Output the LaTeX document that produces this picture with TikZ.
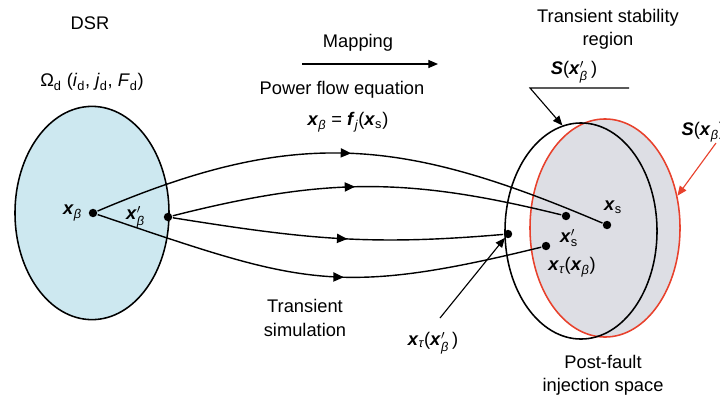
\documentclass[tikz,border=0pt]{standalone}
\usepackage{amsmath}
\usepackage{fontspec}
\setmainfont{Liberation Sans}
\usetikzlibrary{arrows.meta, positioning, shapes.geometric, decorations.markings}
\definecolor{cdsr}{HTML}{CDE8F0}
\definecolor{cregion}{HTML}{DDDEE4}
\definecolor{cred}{HTML}{E8412C}
\newcommand{\vx}{\textbf{\textit{x}}}
\newcommand{\gi}[1]{\text{\itshape #1}}
\tikzset{
  every picture/.style={font=\fontsize{13}{15}\selectfont, line width=1pt},
  region/.style={ellipse, draw=#1, line width=1.1pt, inner sep=0pt},
  pt/.style={circle, fill=black, inner sep=0pt, minimum size=6pt},
  flow/.style={draw=black, postaction={decorate}, decoration={markings, mark=at position #1 with {\arrow{Triangle[length=2.6mm, width=2.3mm]}}}},
  flow/.default=0.5,
  pointer/.style={-{Triangle[length=2.4mm, width=2mm]}, line width=0.8pt},
  lbl/.style={inner sep=1pt},
  caption/.style={align=center, font=\fontsize{13}{16.5}\selectfont},
}
\begin{document}
\begin{tikzpicture}[x=0.025cm, y=-0.025cm]
  \useasboundingbox (0,0) rectangle (720,395);
  \node[region=black, fill=cdsr, minimum width=3.85cm, minimum height=5.33cm] (dsr) at (92,213) {};
  \node[region=cred, fill=cregion, minimum width=3.75cm, minimum height=5.45cm] (sxb) at (605,228) {};
  \node[region=black, minimum width=3.8cm, minimum height=5.4cm] (sxbp) at (581,231) {};
  \node[pt] (xb) at (93,213) {};
  \node[pt] (xbp) at (168,217) {};
  \node[pt] (xs) at (607,225) {};
  \node[pt] (xsp) at (566,216) {};
  \node[pt] (xtb) at (546,246) {};
  \node[pt] (xtbp) at (508,234) {};
  \draw[flow] (xb) .. controls (297,126) and (403,138) .. (xs);
  \draw[flow=0.47] (xbp) .. controls (326,177) and (408,177) .. (xsp);
  \draw[flow=0.53] (xbp) .. controls (306,239) and (369,246) .. (xtbp);
  \draw[flow=0.56] (xb) .. controls (300,283) and (334,298) .. (xtb);
  \node[lbl, left=0.1cm of xb] {\vx$_{\gi{β}}$};
  \node[lbl, left=0.4cm of xbp] {\vx$'_{\gi{β}}$};
  \node[lbl] at (613,207) {\vx$_{\text{s}}$};
  \node[lbl] at (569,238) {\vx$'_{\text{s}}$};
  \node[lbl] at (572,267) {\vx$_{\gi{τ}}$(\vx$_{\gi{β}}$)};
  \node[lbl] (xtbplbl) at (433,343) {\vx$_{\gi{τ}}$(\vx$'_{\gi{β}}$\,)};
  \node (dsrlbl) at (90,23) {DSR};
  \node (omega) at (92,82) {Ω\textsubscript{d} (\textit{i}\textsubscript{d}, \textit{j}\textsubscript{d}, \textit{F}\textsubscript{d})};
  \node (maplbl) at (358,43) {Mapping};
  \node (pflbl) at (342,90) {Power flow equation};
  \node (eqlbl) at (348,122) {\vx$_{\gi{β}}$ = \textbf{\textit{f}}$_{\gi{j}}$(\vx$_{\text{s}}$)};
  \node[caption] (tsr) at (608,29) {Transient stability\\region};
  \node (sxbplbl) at (574,72) {\textbf{\textit{S}}(\vx$'_{\gi{β}}$\,)};
  \node[anchor=west, inner sep=0pt] (sxblbl) at (681,132) {\textbf{\textit{S}}(\vx$_{\gi{β}}$)};
  \node[caption] (simlbl) at (305,318) {Transient\\simulation};
  \node[caption] (pfis) at (603,375) {Post-fault\\injection space};
  \coordinate (m1) at (302,64);
  \coordinate (m2) at (438,64);
  \draw[pointer] (m1) -- (m2);
  \coordinate (sl) at (530,88);
  \coordinate (sr) at (629,88);
  \draw[pointer] (sr) -- (sl) -- (sxbp.100);
  \coordinate (rp) at (716,143);
  \draw[pointer, cred] (rp) -- (sxb.24);
  \coordinate (tp) at (440,318);
  \draw[pointer] (tp) -- (xtbp);
\end{tikzpicture}
\end{document}
